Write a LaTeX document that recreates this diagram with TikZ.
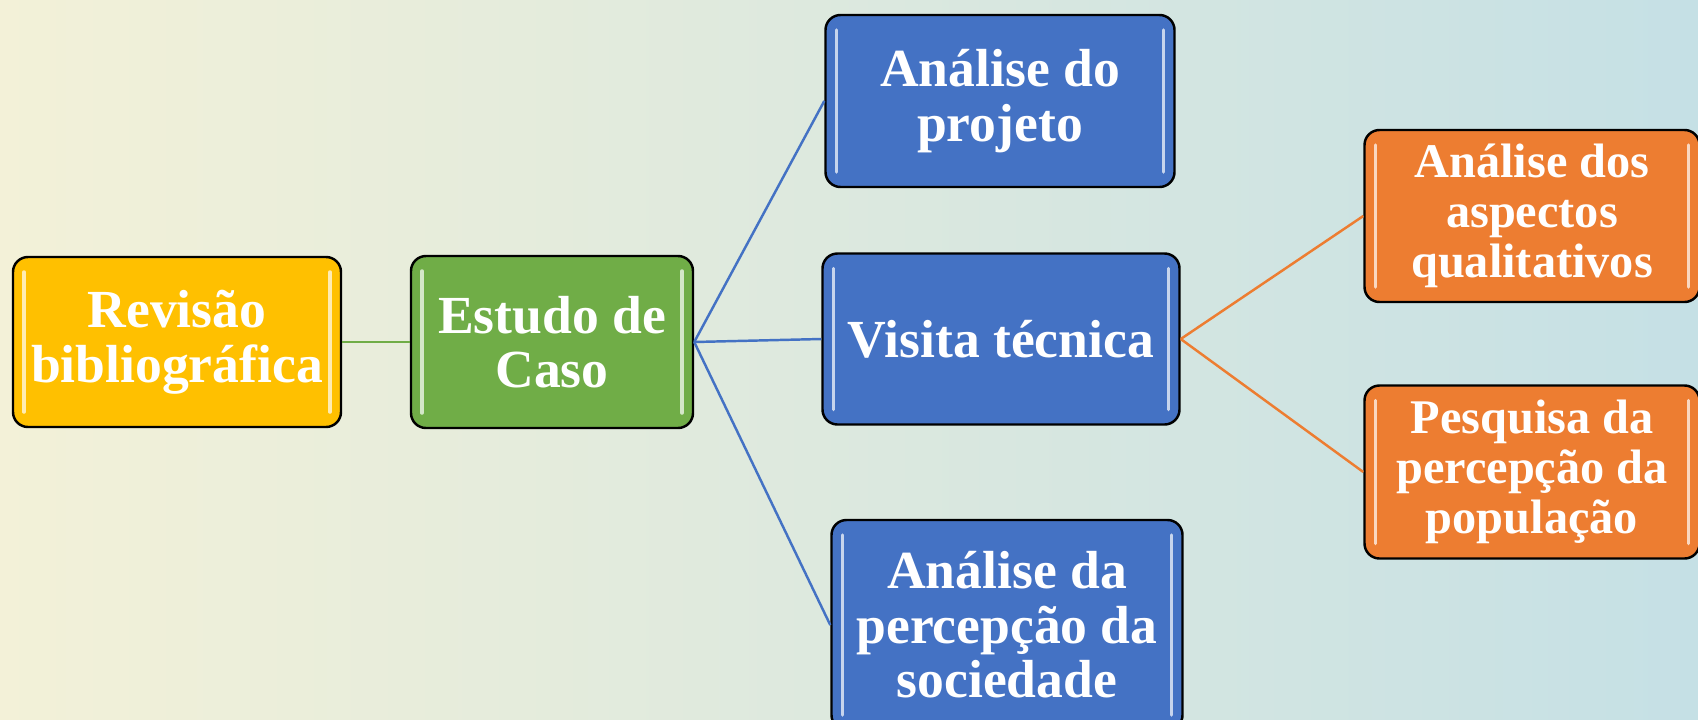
\documentclass[tikz,border=0pt]{standalone}
\usepackage{fontspec}
\setmainfont{Liberation Serif}
\definecolor{ouro}{HTML}{FFC000}
\definecolor{verde}{HTML}{70AD47}
\definecolor{azul}{HTML}{4472C4}
\definecolor{laranja}{HTML}{ED7D31}
\definecolor{fundoA}{RGB}{243,241,216}
\definecolor{fundoB}{RGB}{197,224,229}

\begin{document}
\begin{tikzpicture}
[x=0.2mm,y=-0.2mm,
caixa/.style={draw=black,line width=1.4pt,rounded corners=3mm,fill=#1,text=white,
  font=\fontsize{30.5}{31}\selectfont\bfseries,align=center,inner sep=0pt,
  path picture={\draw[#1!30!white,line width=2pt,line cap=round]
    ([xshift=2.2mm,yshift=-3mm]path picture bounding box.north west) -- ([xshift=2.2mm,yshift=3mm]path picture bounding box.south west)
    ([xshift=-2.2mm,yshift=-3mm]path picture bounding box.north east) -- ([xshift=-2.2mm,yshift=3mm]path picture bounding box.south east);}},
menor/.style={font=\fontsize{27.5}{28.5}\selectfont\bfseries},
liga/.style={line width=1.4pt}]
\shade[left color=fundoA,right color=fundoB] (0,0) rectangle (1698,719);
\useasboundingbox (0,0) rectangle (1698,719);
\node[caixa=ouro,minimum width=65.6mm,minimum height=34mm] (rev) at (177,342) {Revisão\\bibliográfica};
\node[caixa=verde,minimum width=56.4mm,minimum height=34.4mm] (est) at (552,342) {Estudo de\\Caso};
\node[caixa=azul,minimum width=69.8mm,minimum height=34.4mm] (proj) at (1000,101) {Análise do\\projeto};
\node[caixa=azul,minimum width=71.4mm,minimum height=34.2mm] (vis) at (1001,339) {Visita técnica};
\node[caixa=azul,minimum width=70.2mm,minimum height=42mm] (soc) at (1007,625) {Análise da\\percepção da\\sociedade};
\node[caixa=laranja,menor,minimum width=67mm,minimum height=34.4mm] (qual) at (1532,216) {Análise dos\\aspectos\\qualitativos};
\node[caixa=laranja,menor,minimum width=67mm,minimum height=34.6mm] (pesq) at (1532,472) {Pesquisa da\\percepção da\\população};
\draw[liga,verde] (rev.east) -- (est.west);
\foreach \alvo in {proj,vis,soc}
\draw[liga,azul] (est.east) -- (\alvo.west);
\foreach \alvo in {qual,pesq}
\draw[liga,laranja] (vis.east) -- (\alvo.west);
\end{tikzpicture}
\end{document}
